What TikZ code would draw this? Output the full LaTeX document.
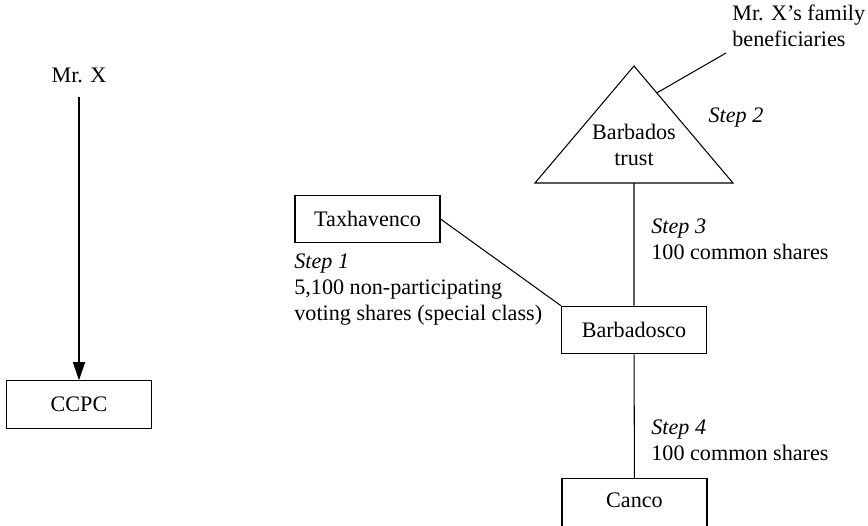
\documentclass[tikz,border=0pt]{standalone}
\usepackage{fontspec}
\setmainfont{Liberation Serif}
\usetikzlibrary{arrows.meta,calc}

\tikzset{
  box/.style={draw,line width=0.6pt,minimum width=2.9cm,minimum height=0.95cm,inner sep=0pt},
  steptext/.style={align=left,anchor=west}
}

\begin{document}
\begin{tikzpicture}[x=0.02cm,y=-0.02cm,line width=0.6pt,
  font=\fontsize{12.6pt}{14.8pt}\selectfont]
\useasboundingbox (0,0) rectangle (868,525);
\clip (0,0) rectangle (868,525);

% left side
\node (mrx) at (79,75) {Mr. X};
\node[box] (ccpc) at (79,404.5) {CCPC};
\draw[-{Triangle[length=0.36cm,width=0.24cm]},shorten <=4.5pt] (mrx) -- (ccpc);

% the trust
\coordinate (top) at (634,66);
\coordinate (left) at (535,183);
\coordinate (right) at (733,183);
\draw (top) -- (left) -- (right) -- cycle;
\node[align=center] (trust) at (634,145) {Barbados\\trust};
\node[anchor=south west,align=left] (fam) at (726,53) {Mr. X's family\\beneficiaries};
\coordinate (foot) at ($(top)!0.23!(right)$);
\draw (foot) -- (fam.south west);
\node (s2) at (736,118) {\itshape Step 2};

% companies
\node[box] (tax) at (367.5,219) {Taxhavenco};
\node[box] (bco) at (634,330) {Barbadosco};
\node[box,minimum height=1.2cm,anchor=north,text depth=0.32cm] (canco) at (634.5,478) {Canco};
\draw (tax.east) -- (bco.north west);
\draw ($(left)!0.5!(right)$) -- (bco.north);
\draw (bco) -- (canco);

\node[steptext] (s1) at (288,290) {\textit{Step 1}\\5,100 non-participating\\voting shares (special class)};
\node[steptext] (s3) at (645,239) {\textit{Step 3}\\100 common shares};
\node[steptext] (s4) at (645,440) {\textit{Step 4}\\100 common shares};
\end{tikzpicture}
\end{document}
